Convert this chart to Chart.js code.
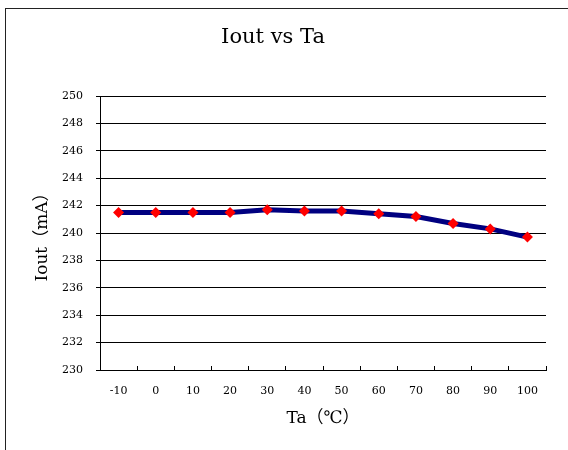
<!DOCTYPE html>
<html>
<head>
<meta charset="utf-8">
<script src="https://cdn.jsdelivr.net/npm/chart.js@4/dist/chart.umd.min.js"></script>
<style>
  html, body { margin: 0; padding: 0; background: #fff; overflow: hidden; }
  #frame {
    position: absolute; left: 5px; top: 8px; width: 700px; height: 600px;
    border-left: 1px solid #222; border-top: 1px solid #222; pointer-events: none;
  }
  #chart { position: absolute; left: 0; top: 0; }
</style>
</head>
<body>
<canvas id="chart" width="568" height="450"></canvas>
<div id="frame"></div>
<script>
"use strict";

// data
const temps = ["-10", "0", "10", "20", "30", "40", "50", "60", "70", "80", "90", "100"];
const iout = [241.5, 241.5, 241.5, 241.5, 241.7, 241.6, 241.6, 241.4, 241.2, 240.7, 240.3, 239.7];
const yMin = 230;
const yMax = 250;
const yStep = 2;

const SERIF = "'DejaVu Serif', 'Noto Sans CJK SC', serif";

new Chart(document.getElementById("chart"), {
  type: "line",
  data: {
    labels: temps,
    datasets: [{
      data: iout,
      borderColor: "#000080",
      borderWidth: 5,
      pointStyle: "rectRot",
      pointRadius: 5.5,
      pointBackgroundColor: "#ff0000",
      pointBorderColor: "#ff0000",
      pointBorderWidth: 0,
      tension: 0,
    }],
  },
  options: {
    responsive: false,
    animation: false,
    layout: { padding: { left: 0, right: 22, top: 0, bottom: 0 } },
    plugins: {
      legend: { display: false },
      tooltip: { enabled: false },
      title: {
        display: true,
        text: "Iout vs Ta",
        color: "#000",
        font: { family: SERIF, size: 21, weight: "normal" },
        padding: { top: 25.4, bottom: 45.4 },
      },
    },
    scales: {
      x: {
        offset: true,
        afterFit: (scale) => { scale.height = 80; },
        grid: {
          offset: true,
          drawOnChartArea: false,
          drawTicks: true,
          tickLength: -4,
          color: "#000",
        },
        border: { display: true, color: "#000", width: 1 },
        ticks: {
          color: "#000",
          font: { family: SERIF, size: 11 },
          padding: 19,
          maxRotation: 0,
        },
        title: {
          display: true,
          text: "Ta（℃）",
          color: "#000",
          font: { family: SERIF, size: 17 },
          padding: { top: 5, bottom: 21 },
        },
      },
      y: {
        min: yMin,
        max: yMax,
        afterFit: (scale) => { scale.width = 100; },
        grid: { color: "#000", tickLength: 4 },
        border: { display: true, color: "#000", width: 1 },
        ticks: {
          stepSize: yStep,
          color: "#000",
          font: { family: SERIF, size: 11 },
          padding: 13,
        },
        title: {
          display: true,
          text: "Iout（mA）",
          color: "#000",
          font: { family: SERIF, size: 17 },
          padding: { top: 32, bottom: 0 },
        },
      },
    },
  },
});
</script>
</body>
</html>
